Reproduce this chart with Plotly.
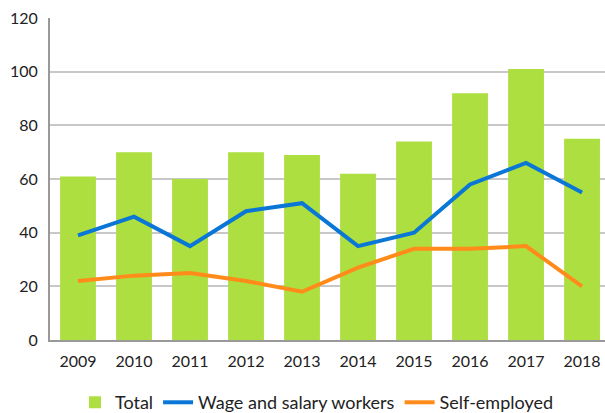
import plotly.graph_objects as go

years = ["2009", "2010", "2011", "2012", "2013", "2014", "2015", "2016", "2017", "2018"]
total = [61, 70, 60, 70, 69, 62, 74, 92, 101, 75]
wage_salary = [39, 46, 35, 48, 51, 35, 40, 58, 66, 55]
self_employed = [22, 24, 25, 22, 18, 27, 34, 34, 35, 20]
y_ticks = [0, 20, 40, 60, 80, 100, 120]

GREEN = "#addf41"
BLUE = "#0a76d6"
ORANGE = "#ff8c1a"
FONT = "Lato"

fig = go.Figure()
fig.add_trace(go.Bar(x=years, y=total, name="Total", marker=dict(color=GREEN, line=dict(width=0))))
fig.add_trace(go.Scatter(x=years, y=wage_salary, name="Wage and salary workers", mode="lines",
                         line=dict(color=BLUE, width=4)))
fig.add_trace(go.Scatter(x=years, y=self_employed, name="Self-employed", mode="lines",
                         line=dict(color=ORANGE, width=4)))

fig.update_layout(
    width=605, height=413,
    margin=dict(l=50, r=0, t=18, b=73),
    plot_bgcolor="white", paper_bgcolor="white",
    font=dict(family=FONT, size=16, color="#222222"),
    bargap=0.36,
    showlegend=True,
    legend=dict(orientation="h", x=0.481, xanchor="center",
                yref="container", y=0.07, yanchor="top",
                font=dict(size=18, family=FONT, color="#222222"),
                itemwidth=30, tracegroupgap=0, traceorder="normal"),
)
fig.update_xaxes(type="category", range=[-0.5, 9.41], showgrid=False, automargin=False,
                 showline=True, linecolor="#999999", linewidth=2,
                 ticks="", tickfont=dict(size=16), ticklabelstandoff=6,
                 ticklabeloverflow="allow")
fig.update_yaxes(range=[0, 120.05], tickvals=y_ticks, showgrid=True, gridcolor="#c8c8c8", gridwidth=1.5,
                 automargin=False,
                 showline=True, linecolor="#999999", linewidth=2, zeroline=False,
                 ticks="", tickfont=dict(size=16), ticklabelstandoff=7,
                 ticklabeloverflow="allow")

fig.write_html("out.html", config={"displayModeBar": False},
               post_script="document.body.style.margin='0';document.body.style.overflow='hidden';")
